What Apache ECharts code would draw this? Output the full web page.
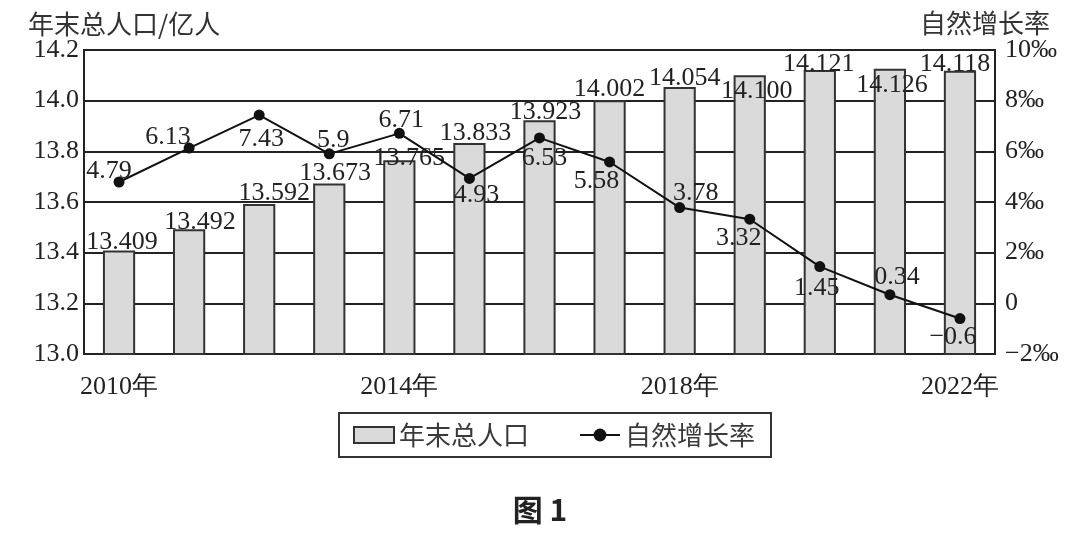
<!DOCTYPE html>
<html>
<head>
<meta charset="utf-8">
<script src="https://cdn.jsdelivr.net/npm/echarts@6/dist/echarts.min.js"></script>
<style>html,body{margin:0;padding:0;background:#fff;}#c{width:1080px;height:534px;}</style>
</head>
<body>
<div id="c"></div>
<script>
var years = ['2010年','2011年','2012年','2013年','2014年','2015年','2016年','2017年','2018年','2019年','2020年','2021年','2022年'];
var population = [13.409, 13.492, 13.592, 13.673, 13.765, 13.833, 13.923, 14.002, 14.054, 14.100, 14.121, 14.126, 14.118];
var growthRate = [4.79, 6.13, 7.43, 5.9, 6.71, 4.93, 6.53, 5.58, 3.78, 3.32, 1.45, 0.34, -0.6];
var popLabels = ['13.409','13.492','13.592','13.673','13.765','13.833','13.923','14.002','14.054','14.100','14.121','14.126','14.118'];
var rateLabels = ['4.79','6.13','7.43','5.9','6.71','4.93','6.53','5.58','3.78','3.32','1.45','0.34','\u22120.6'];

// label placement tweaks (style only)
var barLabelOffsets = [[3,7],[11,8],[15,4],[6,5],[10,13],[6,5],[6,7],[0,4],[5,6],[7,31],[-1,9],[2,31],[-5,8]];
var rateLabelPos = ['top','top','bottom','top','top','bottom','bottom','bottom','top','bottom','bottom','top','bottom'];
var rateLabelOffsets = [[-10,12],[-21,12],[2,2],[4,9],[2,9],[7,-6],[5,-2],[-13,-3],[16,8],[-11,-4],[-3,-1],[7,5],[-7,-4]];

var serif = '"Liberation Serif","DejaVu Serif",serif';
var cjk = '"Noto Sans CJK SC","Noto Sans",sans-serif';

var barData = population.map(function(v,i){
  return {value:v, label:{offset:barLabelOffsets[i], formatter:popLabels[i]}};
});
var lineData = growthRate.map(function(v,i){
  return {value:v, label:{position:rateLabelPos[i], offset:rateLabelOffsets[i], formatter:rateLabels[i]}};
});

var chart = echarts.init(document.getElementById('c'));
chart.setOption({
  backgroundColor:'#fff',
  animation:false,
  grid:{left:84, right:85, top:50, bottom:180, show:true, borderColor:'#222', borderWidth:2, backgroundColor:'transparent'},
  legend:{
    left:339, top:413, padding:[9,16,9,14], itemGap:50, itemWidth:40, itemHeight:16,
    borderColor:'#333', borderWidth:2,
    textStyle:{fontFamily:cjk, fontSize:26, color:'#3a3a3a'},
    data:[{name:'年末总人口', icon:'rect'},{name:'自然增长率'}]
  },
  graphic:[
    {type:'text', left:28, top:11, style:{text:'年末总人口/亿人', font:'26px '+cjk, fill:'#333'}},
    {type:'text', left:920, top:10, style:{text:'自然增长率', font:'26px '+cjk, fill:'#333'}},
    {type:'text', left:'center', top:495, style:{text:'图 1', font:'bold 30px '+cjk, fill:'#222'}}
  ],
  xAxis:{
    type:'category', data:years, boundaryGap:true,
    axisLine:{show:false}, axisTick:{show:false},
    axisLabel:{interval:3, margin:20, fontFamily:serif, fontSize:26, color:'#222'}
  },
  yAxis:[
    {type:'value', min:13.0, max:14.2, interval:0.2,
     axisLine:{show:false}, axisTick:{show:false},
     axisLabel:{margin:5, fontFamily:serif, fontSize:26, color:'#222', formatter:function(v){return v.toFixed(1);}},
     splitLine:{show:true, lineStyle:{color:'#222', width:2}}},
    {type:'value', min:-2, max:10, interval:2,
     axisLine:{show:false}, axisTick:{show:false},
     axisLabel:{margin:10, fontFamily:serif, fontSize:26, color:'#222', formatter:function(v){ if(v===0) return '0'; return (v<0?'\u2212'+Math.abs(v):v)+'‰';}},
     splitLine:{show:false}}
  ],
  series:[
    {name:'年末总人口', type:'bar', yAxisIndex:0, data:barData, barWidth:'46%',
     itemStyle:{color:'#dadada', borderColor:'#333', borderWidth:2},
     label:{show:true, position:'top', distance:2, fontFamily:serif, fontSize:26, color:'#222'}},
    {name:'自然增长率', type:'line', yAxisIndex:1, data:lineData,
     symbol:'circle', symbolSize:11,
     lineStyle:{color:'#111', width:2}, itemStyle:{color:'#111'},
     label:{show:true, fontFamily:serif, fontSize:26, color:'#222', distance:4}, z:5}
  ]
});
</script>
</body>
</html>
